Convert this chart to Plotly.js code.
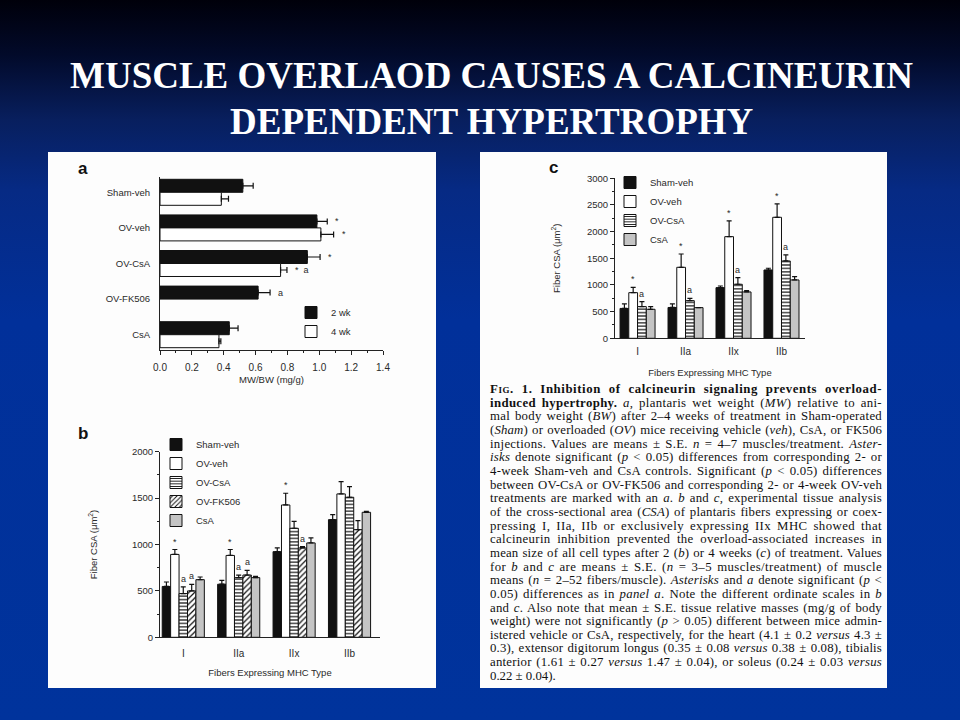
<!DOCTYPE html>
<html><head><meta charset="utf-8">
<script src="https://cdn.plot.ly/plotly-3.0.1.min.js"></script>
<style>
html,body{margin:0;padding:0;width:960px;height:720px;overflow:hidden;}
body{background:linear-gradient(180deg,#00000a 0px,#020a2a 55px,#081f5e 120px,#062a84 190px,#01309a 320px,#00339c 720px);}
#chart{position:absolute;left:0;top:0;width:960px;height:720px;}
#caption{position:absolute;left:490px;top:383px;width:392px;font-family:'Liberation Serif','Times New Roman',serif;font-size:12.8px;line-height:13.67px;color:#111;}
#caption .l{white-space:nowrap;height:13.67px;}
#caption b{font-weight:bold;}
.sc{font-variant:small-caps;}
</style></head>
<body>
<div id="chart"></div>
<div id="caption">
<div class="l"><span><b><span class="sc">Fig</span>. 1. Inhibition of calcineurin signaling prevents overload-</b></span></div>
<div class="l"><span><b>induced hypertrophy.</b> <i>a</i>, plantaris wet weight (<i>MW</i>) relative to ani-</span></div>
<div class="l"><span>mal body weight (<i>BW</i>) after 2–4 weeks of treatment in Sham-operated</span></div>
<div class="l"><span>(<i>Sham</i>) or overloaded (<i>OV</i>) mice receiving vehicle (<i>veh</i>), CsA, or FK506</span></div>
<div class="l"><span>injections. Values are means ± S.E. <i>n</i> = 4–7 muscles/treatment. <i>Aster-</i></span></div>
<div class="l"><span><i>isks</i> denote significant (<i>p</i> &lt; 0.05) differences from corresponding 2- or</span></div>
<div class="l"><span>4-week Sham-veh and CsA controls. Significant (<i>p</i> &lt; 0.05) differences</span></div>
<div class="l"><span>between OV-CsA or OV-FK506 and corresponding 2- or 4-week OV-veh</span></div>
<div class="l"><span>treatments are marked with an <i>a</i>. <i>b</i> and <i>c</i>, experimental tissue analysis</span></div>
<div class="l"><span>of the cross-sectional area (<i>CSA</i>) of plantaris fibers expressing or coex-</span></div>
<div class="l"><span>pressing I, IIa, IIb or exclusively expressing IIx MHC showed that</span></div>
<div class="l"><span>calcineurin inhibition prevented the overload-associated increases in</span></div>
<div class="l"><span>mean size of all cell types after 2 (<i>b</i>) or 4 weeks (<i>c</i>) of treatment. Values</span></div>
<div class="l"><span>for <i>b</i> and <i>c</i> are means ± S.E. (<i>n</i> = 3–5 muscles/treatment) of muscle</span></div>
<div class="l"><span>means (<i>n</i> = 2–52 fibers/muscle). <i>Asterisks</i> and <i>a</i> denote significant (<i>p</i> &lt;</span></div>
<div class="l"><span>0.05) differences as in <i>panel a</i>. Note the different ordinate scales in <i>b</i></span></div>
<div class="l"><span>and <i>c</i>. Also note that mean ± S.E. tissue relative masses (mg/g of body</span></div>
<div class="l"><span>weight) were not significantly (<i>p</i> &gt; 0.05) different between mice admin-</span></div>
<div class="l"><span>istered vehicle or CsA, respectively, for the heart (4.1 ± 0.2 <i>versus</i> 4.3 ±</span></div>
<div class="l"><span>0.3), extensor digitorum longus (0.35 ± 0.08 <i>versus</i> 0.38 ± 0.08), tibialis</span></div>
<div class="l"><span>anterior (1.61 ± 0.27 <i>versus</i> 1.47 ± 0.04), or soleus (0.24 ± 0.03 <i>versus</i></span></div>
<div class="l last"><span>0.22 ± 0.04).</span></div>
</div>
<script>
// ---------- DATA ----------
// Panel a: MW/BW (mg/g)
const catsA = ['Sham-veh', 'OV-veh', 'OV-CsA', 'OV-FK506', 'CsA'];
const mw2wk = [0.52, 0.985, 0.925, 0.616, 0.435];
const mw2wkErr = [0.065, 0.065, 0.08, 0.075, 0.055];
const mw4wk = [0.385, 1.01, 0.757, null, 0.37];
const mw4wkErr = [0.045, 0.08, 0.04, null, 0.012];
const sigA2wk = ['', '*', '*', 'a', ''];
const sigA4wk = ['', '*', '*  a', '', ''];

// Panel b: fiber CSA after 2 weeks
const fiberTypes = ['I', 'IIa', 'IIx', 'IIb'];
const groupsB = ['Sham-veh', 'OV-veh', 'OV-CsA', 'OV-FK506', 'CsA'];
const bShamVeh = [548, 572, 923, 1268];
const bShamVehErr = [48, 42, 40, 54];
const bOVVeh = [893, 882, 1426, 1545];
const bOVVehErr = [53, 64, 126, 133];
const bOVCsA = [471, 643, 1175, 1509];
const bOVCsAErr = [72, 28, 75, 115];
const bOVFK506 = [500, 671, 963, 1160];
const bOVFK506Err = [71, 50, 14, 98];
const bCsA = [621, 643, 1017, 1347];
const bCsAErr = [29, 14, 54, 11];
const sigBOVVeh = ['*', '*', '*', ''];
const sigBOVCsA = ['a', 'a', '', ''];
const sigBOVFK506 = ['a', 'a', 'a', ''];

// Panel c: fiber CSA after 4 weeks
const groupsC = ['Sham-veh', 'OV-veh', 'OV-CsA', 'CsA'];
const cShamVeh = [560, 578, 950, 1281];
const cShamVehErr = [84, 66, 31, 32];
const cOVVeh = [856, 1331, 1906, 2269];
const cOVVehErr = [100, 250, 294, 250];
const cOVCsA = [594, 706, 1013, 1450];
const cOVCsAErr = [94, 44, 125, 113];
const cCsA = [544, 575, 869, 1094];
const cCsAErr = [50, 0, 25, 62];
const sigCOVVeh = ['*', '*', '*', '*'];
const sigCOVCsA = ['a', 'a', 'a', 'a'];

// ---------- LAYOUT HELPERS ----------
const W = 960, H = 720;
const X = px => px / W;
const Y = py => 1 - py / H;
const FONT = 'Liberation Sans, Arial, sans-serif';
const TXT = '#2a2a2a';

const styles = {
  'Sham-veh': {color: '#111', line: '#111'},
  'OV-veh': {color: '#fff', line: '#111'},
  'OV-CsA': {color: '#fff', line: '#111', pattern: {shape: '-', size: 3.4, solidity: 0.35, fgcolor: '#111', bgcolor: '#fff'}},
  'OV-FK506': {color: '#fff', line: '#111', pattern: {shape: '/', size: 4, solidity: 0.3, fgcolor: '#111', bgcolor: '#fff'}},
  'CsA': {color: '#c4c4c4', line: '#111'}
};

const traces = [];
const annotations = [];

// Panel a traces
const barHA = 0.365;
function addA(name, vals, errs, idx, color, sigs) {
  const off = (idx === 0 ? -barHA : 0);
  traces.push({
    type: 'bar', orientation: 'h', name: name, x: vals, y: catsA.map((c, i) => i),
    xaxis: 'x', yaxis: 'y', width: barHA, offset: off,
    marker: {color: color, line: {color: '#111', width: 1}},
    error_x: {type: 'data', array: errs, arrayminus: errs.map(() => 0), symmetric: false, color: '#111', thickness: 1.2, width: 3},
    legend: 'legend', hoverinfo: 'skip'
  });
  sigs.forEach((s, i) => {
    if (!s) return;
    annotations.push({xref: 'x', yref: 'y', x: vals[i] + errs[i], y: i + off + barHA / 2, text: s,
      showarrow: false, xanchor: 'left', yanchor: 'middle', xshift: 6, font: {family: FONT, size: 9, color: TXT}});
  });
}
addA('2 wk', mw2wk, mw2wkErr, 0, '#111', sigA2wk);
addA('4 wk', mw4wk, mw4wkErr, 1, '#fff', sigA4wk);

// Grouped vertical bars (b, c)
function addGroup(xa, ya, legendId, names, series, errSeries, sigMap, groupW) {
  const n = names.length, bw = groupW / n;
  names.forEach((nm, k) => {
    const st = styles[nm];
    const off = -groupW / 2 + k * bw;
    const marker = {color: st.color, line: {color: st.line, width: 1}};
    if (st.pattern) marker.pattern = st.pattern;
    traces.push({
      type: 'bar', name: nm, x: fiberTypes.map((c, i) => i), y: series[k],
      xaxis: xa, yaxis: ya, width: bw, offset: off, marker: marker,
      error_y: {type: 'data', array: errSeries[k], arrayminus: errSeries[k].map(() => 0), symmetric: false, color: '#111', thickness: 1.2, width: 2.5},
      legend: legendId, hoverinfo: 'skip'
    });
    const sigs = sigMap[nm];
    if (sigs) sigs.forEach((s, i) => {
      if (!s) return;
      annotations.push({xref: xa, yref: ya, x: i + off + bw / 2, y: series[k][i] + errSeries[k][i], text: s,
        showarrow: false, xanchor: 'center', yanchor: 'bottom', yshift: 1, font: {family: FONT, size: 9, color: TXT}});
    });
  });
}
addGroup('x2', 'y2', 'legend2', groupsB,
  [bShamVeh, bOVVeh, bOVCsA, bOVFK506, bCsA],
  [bShamVehErr, bOVVehErr, bOVCsAErr, bOVFK506Err, bCsAErr],
  {'OV-veh': sigBOVVeh, 'OV-CsA': sigBOVCsA, 'OV-FK506': sigBOVFK506}, 0.76);
addGroup('x3', 'y3', 'legend3', groupsC,
  [cShamVeh, cOVVeh, cOVCsA, cCsA],
  [cShamVehErr, cOVVehErr, cOVCsAErr, cCsAErr],
  {'OV-veh': sigCOVVeh, 'OV-CsA': sigCOVCsA}, 0.73);

// Titles and panel letters
const titleFont = {family: 'Liberation Serif, Times New Roman, serif', size: 37, color: '#fff', weight: 'bold'};
annotations.push(
  {xref: 'paper', yref: 'paper', x: X(492), y: Y(76), text: 'MUSCLE OVERLAOD CAUSES A CALCINEURIN', showarrow: false,
    xanchor: 'center', yanchor: 'middle', font: titleFont},
  {xref: 'paper', yref: 'paper', x: X(492), y: Y(121), text: 'DEPENDENT HYPERTROPHY', showarrow: false,
    xanchor: 'center', yanchor: 'middle', font: titleFont},
  {xref: 'paper', yref: 'paper', x: X(83), y: Y(168), text: '<b>a</b>', showarrow: false, xanchor: 'center', yanchor: 'middle', font: {family: FONT, size: 17, color: '#111'}},
  {xref: 'paper', yref: 'paper', x: X(83), y: Y(433), text: '<b>b</b>', showarrow: false, xanchor: 'center', yanchor: 'middle', font: {family: FONT, size: 17, color: '#111'}},
  {xref: 'paper', yref: 'paper', x: X(553), y: Y(167), text: '<b>c</b>', showarrow: false, xanchor: 'center', yanchor: 'middle', font: {family: FONT, size: 17, color: '#111'}}
);

const axLine = {showline: true, linecolor: '#222', linewidth: 1, showgrid: false, zeroline: false, fixedrange: true};
const tickF = {family: FONT, size: 10, color: TXT};
const titleF = {family: FONT, size: 9.5, color: TXT};
const legF = {family: FONT, size: 9.5, color: TXT};

const layout = {
  width: W, height: H, margin: {l: 0, r: 0, t: 0, b: 0},
  paper_bgcolor: 'rgba(0,0,0,0)', plot_bgcolor: 'rgba(0,0,0,0)',
  barmode: 'overlay', showlegend: true,
  shapes: [
    {type: 'rect', xref: 'paper', yref: 'paper', x0: X(48), x1: X(436), y0: Y(688), y1: Y(152), fillcolor: '#fdfdfd', line: {width: 0}, layer: 'below'},
    {type: 'rect', xref: 'paper', yref: 'paper', x0: X(480), x1: X(887), y0: Y(688), y1: Y(152), fillcolor: '#fdfdfd', line: {width: 0}, layer: 'below'}
  ],
  xaxis: Object.assign({}, axLine, {domain: [X(160), X(383)], anchor: 'y', range: [0, 1.4], dtick: 0.2, tickformat: '.1f',
    ticks: 'outside', ticklen: 4, tickcolor: '#222', minor: {dtick: 0.1, ticks: 'outside', ticklen: 2, tickcolor: '#222'},
    tickfont: tickF, ticklabelstandoff: 4, title: {text: 'MW/BW (mg/g)', font: titleF, standoff: 4}}),
  yaxis: Object.assign({}, axLine, {domain: [Y(350), Y(177)], anchor: 'x', type: 'linear', range: [4.43, -0.43],
    tickvals: catsA.map((c, i) => i), ticktext: catsA, ticks: '', tickfont: {family: FONT, size: 9.5, color: TXT}, ticklabelstandoff: 7}),
  xaxis2: Object.assign({}, axLine, {domain: [X(160), X(380)], anchor: 'y2', range: [-0.42, 3.55],
    tickvals: fiberTypes.map((c, i) => i), ticktext: fiberTypes, ticks: '', tickfont: tickF, ticklabelstandoff: 7,
    title: {text: 'Fibers Expressing MHC Type', font: titleF, standoff: 11}}),
  yaxis2: Object.assign({}, axLine, {domain: [Y(637.3), Y(451.7)], anchor: 'x2', range: [0, 2000], dtick: 500,
    ticks: 'outside', ticklen: 4, tickcolor: '#222', minor: {dtick: 250, ticks: 'outside', ticklen: 2, tickcolor: '#222'},
    tickfont: {family: FONT, size: 9.5, color: TXT}, title: {text: 'Fiber CSA (μm<sup>2</sup>)', font: titleF, standoff: 32}}),
  xaxis3: Object.assign({}, axLine, {domain: [X(615), X(805)], anchor: 'y3', range: [-0.47, 3.49],
    tickvals: fiberTypes.map((c, i) => i), ticktext: fiberTypes, ticks: '', tickfont: tickF, ticklabelstandoff: 4,
    title: {text: 'Fibers Expressing MHC Type', font: titleF, standoff: 13}}),
  yaxis3: Object.assign({}, axLine, {domain: [Y(338.3), Y(178.3)], anchor: 'x3', range: [0, 3000], dtick: 500,
    ticks: 'outside', ticklen: 4, tickcolor: '#222', minor: {dtick: 250, ticks: 'outside', ticklen: 2, tickcolor: '#222'},
    tickfont: {family: FONT, size: 9.5, color: TXT}, title: {text: 'Fiber CSA (μm<sup>2</sup>)', font: titleF, standoff: 24}}),
  legend: {x: X(291), y: Y(298), xanchor: 'left', yanchor: 'top', bgcolor: 'rgba(0,0,0,0)', font: legF, tracegroupgap: 0, borderwidth: 0},
  legend2: {x: X(156), y: Y(430), xanchor: 'left', yanchor: 'top', bgcolor: 'rgba(0,0,0,0)', font: legF, tracegroupgap: 0, borderwidth: 0},
  legend3: {x: X(610), y: Y(168), xanchor: 'left', yanchor: 'top', bgcolor: 'rgba(0,0,0,0)', font: legF, tracegroupgap: 0, borderwidth: 0},
  annotations: annotations
};

Plotly.newPlot('chart', traces, layout, {displayModeBar: false, staticPlot: true});

// justify caption lines to the column width: share the slack between letters and words
const COLW = 392;
document.querySelectorAll('#caption .l').forEach(line => {
  if (line.classList.contains('last')) return;
  const span = line.firstElementChild;
  const w = span.getBoundingClientRect().width;
  const txt = span.textContent;
  const spaces = (txt.match(/ /g) || []).length;
  const chars = txt.length;
  const slack = COLW - w;
  const ls = slack * 0.55 / chars;
  line.style.letterSpacing = ls + 'px';
  const w2 = span.getBoundingClientRect().width;
  if (spaces > 0) line.style.wordSpacing = ((COLW - w2) / spaces) + 'px';
});
</script>
</body></html>
